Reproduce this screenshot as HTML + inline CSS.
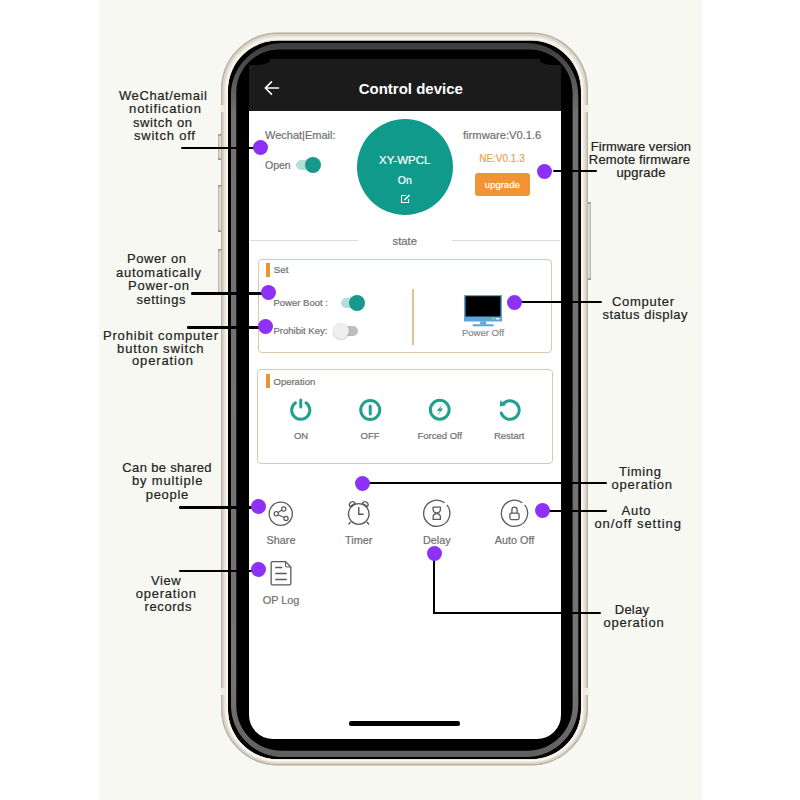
<!DOCTYPE html>
<html><head><meta charset="utf-8">
<style>
html,body{margin:0;padding:0;}
body{width:800px;height:800px;position:relative;overflow:hidden;background:#fff;font-family:"Liberation Sans",sans-serif;}
.abs{position:absolute;}
.t{position:absolute;line-height:0;white-space:nowrap;font-family:"Liberation Sans",sans-serif;}
.c{width:300px;text-align:center;}
.ann{font-size:13px;color:#222;-webkit-text-stroke:0.2px #222;}
.gray{color:#707070;}
.sw{-webkit-text-stroke:0.2px currentColor;}
.line{position:absolute;background:#000;}
.dot{position:absolute;width:15px;height:15px;border-radius:50%;background:#8d31f7;}
</style></head><body>
<!-- cream band -->
<div class="abs" style="left:99px;top:0;width:603px;height:800px;background:#f7f8f2;"></div>

<!-- phone body -->
<!-- side buttons -->
<div class="abs" style="left:217.8px;top:134px;width:4px;height:26px;border-radius:1.5px 0 0 1.5px;background:linear-gradient(90deg,#bdb8ac,#e6e3dc 60%,#f0eee8);box-shadow:inset 0 2px 1px -0.5px #8f8a80, inset 0 -2px 1px -0.5px #8f8a80;"></div>
<div class="abs" style="left:217.8px;top:185px;width:4px;height:47px;border-radius:1.5px 0 0 1.5px;background:linear-gradient(90deg,#bdb8ac,#e6e3dc 60%,#f0eee8);box-shadow:inset 0 2px 1px -0.5px #8f8a80, inset 0 -2px 1px -0.5px #8f8a80;"></div>
<div class="abs" style="left:217.8px;top:249px;width:4px;height:46px;border-radius:1.5px 0 0 1.5px;background:linear-gradient(90deg,#bdb8ac,#e6e3dc 60%,#f0eee8);box-shadow:inset 0 2px 1px -0.5px #8f8a80, inset 0 -2px 1px -0.5px #8f8a80;"></div>
<div class="abs" style="left:587px;top:201.5px;width:4px;height:78px;border-radius:0 1.5px 1.5px 0;background:linear-gradient(270deg,#bdb8ac,#e6e3dc 60%,#f0eee8);box-shadow:inset 0 2px 1px -0.5px #8f8a80, inset 0 -2px 1px -0.5px #8f8a80;"></div>

<svg class="abs" style="left:0;top:0" width="800" height="800" viewBox="0 0 800 800">
  <path d="M278,40.5 H531 C558.615,40.5 581,62.885 581,90.5 V709.3 C581,736.915 558.615,759.3 531,759.3 H278 C250.385,759.3 228,736.915 228,709.3 V90.5 C228,62.885 250.385,40.5 278,40.5 Z" fill="#000"/>
</svg>

<!-- screen -->
<div class="abs" style="left:249px;top:59px;width:311.5px;height:680px;border-radius:0 0 24px 24px;background:#fff;overflow:hidden;">
  <div class="abs" style="left:0;top:0;width:311.5px;height:52px;background:#1b1b1b;"></div>
</div>
<div class="abs" style="left:249px;top:59px;width:21px;height:5.5px;background:#000;border-bottom-right-radius:12px 5px;"></div>
<div class="abs" style="left:539.5px;top:59px;width:21px;height:5.5px;background:#000;border-bottom-left-radius:12px 5px;"></div>

<svg class="abs" style="left:0;top:0" width="800" height="800" viewBox="0 0 800 800">
  <defs>
    <linearGradient id="gg" x1="0" y1="43" x2="0" y2="757" gradientUnits="userSpaceOnUse">
      <stop offset="0" stop-color="#3c3c3c"/>
      <stop offset="0.03" stop-color="#4c4c4c"/>
      <stop offset="0.1" stop-color="#727272"/>
      <stop offset="0.9" stop-color="#747474"/>
      <stop offset="0.97" stop-color="#686868"/>
      <stop offset="1" stop-color="#5e5e5e"/>
    </linearGradient>
  </defs>
  <path d="M283,43 H526.3 C555.0196,43 578.3,66.2804 578.3,95 V705 C578.3,733.7196 555.0196,757 526.3,757 H283 C254.2804,757 231,733.7196 231,705 V95 C231,66.2804 254.2804,43 283,43 Z M279.3,49.4 H529.6 C553.3489000000001,49.4 572.6,68.65110000000001 572.6,92.4 V705.8 C572.6,730.6535 552.4535000000001,750.8 527.6,750.8 H281.3 C256.4465,750.8 236.3,730.6535 236.3,705.8 V92.4 C236.3,68.65110000000001 255.55110000000002,49.4 279.3,49.4 Z" fill="url(#gg)" fill-rule="evenodd"/>
  <path d="M278,32.5 H531 C562.4811,32.5 588,58.0189 588,89.5 V708.5 C588,739.9811 562.4811,765.5 531,765.5 H278 C246.5189,765.5 221,739.9811 221,708.5 V89.5 C221,58.0189 246.5189,32.5 278,32.5 Z M278,40.5 H531 C558.615,40.5 581,62.885 581,90.5 V709.3 C581,736.915 558.615,759.3 531,759.3 H278 C250.385,759.3 228,736.915 228,709.3 V90.5 C228,62.885 250.385,40.5 278,40.5 Z" fill="#e8e4da" fill-rule="evenodd"/>
  <path d="M278.0,33.3 H531.0 C562.03926,33.3 587.2,58.46074 587.2,89.5 V708.5 C587.2,739.53926 562.03926,764.7 531.0,764.7 H278.0 C246.96074,764.7 221.8,739.53926 221.8,708.5 V89.5 C221.8,58.46074 246.96074,33.3 278.0,33.3 Z" fill="none" stroke="#b9b1a1" stroke-width="1.6"/>
  <path d="M278.0,35 H531.0 C561.10035,35 585.5,59.399649999999994 585.5,89.5 V708.5 C585.5,738.60035 561.10035,763 531.0,763 H278.0 C247.89965,763 223.5,738.60035 223.5,708.5 V89.5 C223.5,59.399649999999994 247.89965,35 278.0,35 Z" fill="none" stroke="#dad4c8" stroke-width="1.8"/>
  <path d="M278.0,36.8 H531.0 C560.16144,36.8 583.8,60.438559999999995 583.8,89.6 V708.8000000000001 C583.8,737.96144 560.16144,761.6 531.0,761.6 H278.0 C248.83856,761.6 225.2,737.96144 225.2,708.8000000000001 V89.6 C225.2,60.438559999999995 248.83856,36.8 278.0,36.8 Z" fill="none" stroke="#ebe7de" stroke-width="1.6"/>
  <path d="M278.1,38.6 H530.9 C559.17776,38.6 582.1,61.52224000000001 582.1,89.80000000000001 V709.3 C582.1,737.5777599999999 559.17776,760.5 530.9,760.5 H278.1 C249.82224000000002,760.5 226.9,737.5777599999999 226.9,709.3 V89.80000000000001 C226.9,61.52224000000001 249.82224000000002,38.6 278.1,38.6 Z" fill="none" stroke="#f9f7f1" stroke-width="1.8"/>
</svg>
<div class="abs" style="left:220.3px;top:105px;width:5px;height:7px;background:#efece4;"></div>
<div class="abs" style="left:220.3px;top:688px;width:5px;height:7px;background:#efece4;"></div>
<div class="abs" style="left:583.7px;top:105px;width:5px;height:7px;background:#efece4;"></div>
<div class="abs" style="left:583.7px;top:688px;width:5px;height:7px;background:#efece4;"></div>
<!-- header content -->
<svg class="abs" style="left:263px;top:80px" width="18" height="16" viewBox="0 0 18 16">
  <path d="M8.5 1.9 L2.3 8 L8.5 14.1 M2.3 8 H15.5" fill="none" stroke="#fff" stroke-width="1.6" stroke-linecap="round" stroke-linejoin="round"/>
</svg>
<div class="t c" style="left:260.8px;top:88.5px;font-size:15px;font-weight:700;color:#fff;">Control device</div>


<!-- ===== top section ===== -->
<div class="t gray sw" style="left:265px;top:134.8px;font-size:11px;">Wechat|Email:</div>
<div class="t gray sw" style="left:265px;top:165.4px;font-size:10.5px;">Open</div>
<div class="abs" style="left:296px;top:160.2px;width:22px;height:10px;border-radius:5px;background:#b4dfd9;"></div>
<div class="abs" style="left:304.6px;top:157.2px;width:16px;height:16px;border-radius:50%;background:#17988a;"></div>

<div class="abs" style="left:356.7px;top:118.8px;width:96px;height:96px;border-radius:50%;background:#109a8b;"></div>
<div class="t c sw" style="left:254.7px;top:159.9px;font-size:11.5px;color:#fff;">XY-WPCL</div>
<div class="t c sw" style="left:254.75px;top:180px;font-size:10.5px;color:#fff;">On</div>
<svg class="abs" style="left:399.5px;top:193.5px" width="11" height="10" viewBox="0 0 11 10">
  <path d="M6 1.5 H1.5 V8.5 H8.5 V5" fill="none" stroke="#fff" stroke-width="1.1"/>
  <path d="M4.5 6 L9.5 1" fill="none" stroke="#fff" stroke-width="1.6"/>
</svg>

<div class="t gray sw" style="left:463px;top:134.8px;font-size:11.2px;">firmware:V0.1.6</div>
<div class="t sw" style="left:479.2px;top:159.4px;font-size:10px;color:#e2a35c;">NE:V0.1.3</div>
<div class="abs" style="left:474.8px;top:172.8px;width:55.2px;height:23.4px;border-radius:3px;background:#f09536;"></div>
<div class="t c sw" style="left:352.3px;top:184.6px;font-size:9.5px;color:#fff;">upgrade</div>

<!-- state divider -->
<div class="abs" style="left:250px;top:239.5px;width:108px;height:1px;background:#dcdcdc;"></div>
<div class="abs" style="left:452px;top:239.5px;width:108px;height:1px;background:#dcdcdc;"></div>
<div class="t c sw" style="left:254.8px;top:240.9px;font-size:11.3px;color:#6e6e6e;">state</div>

<!-- Set box -->
<div class="abs" style="left:257.6px;top:258.5px;width:294.5px;height:94px;box-sizing:border-box;border:1.2px solid #e0c6a2;border-radius:4px;"></div>
<div class="abs" style="left:266.2px;top:263px;width:4.2px;height:13.8px;background:#e8962f;"></div>
<div class="t gray sw" style="left:273.8px;top:269.7px;font-size:9.7px;">Set</div>
<div class="t gray sw" style="left:273.5px;top:302.7px;font-size:9.5px;">Power Boot :</div>
<div class="abs" style="left:340.6px;top:297.6px;width:20px;height:10px;border-radius:5px;background:#b4dfd9;"></div>
<div class="abs" style="left:349.2px;top:294.8px;width:16px;height:16px;border-radius:50%;background:#17988a;"></div>
<div class="t gray sw" style="left:273.5px;top:330.7px;font-size:9.5px;">Prohibit Key:</div>
<div class="abs" style="left:337px;top:325.5px;width:21px;height:10px;border-radius:5px;background:#bdbdbd;"></div>
<div class="abs" style="left:333px;top:322.8px;width:16px;height:16px;border-radius:50%;background:#efefef;box-shadow:0 0.5px 1.5px rgba(0,0,0,0.3);"></div>
<div class="abs" style="left:412.3px;top:288.5px;width:1.6px;height:56px;background:#dcc39c;"></div>
<svg class="abs" style="left:463.5px;top:294.5px" width="38" height="32" viewBox="0 0 38 32">
  <rect x="0" y="0" width="38" height="26.5" fill="#5ea5dd"/>
  <rect x="1.5" y="1.2" width="35" height="20.3" fill="#000"/>
  <rect x="28" y="23" width="3" height="1.5" fill="#9ed08a"/>
  <rect x="32" y="23" width="3.5" height="1.5" fill="#e9f3fb"/>
  <rect x="16.2" y="26.5" width="6" height="3" fill="#5ea5dd"/>
  <rect x="8.7" y="29.3" width="21" height="2" fill="#5ea5dd"/>
</svg>
<div class="t c sw" style="left:333px;top:332.7px;font-size:9.5px;color:#888;">Power Off</div>

<!-- Operation box -->
<div class="abs" style="left:257.4px;top:368.6px;width:295.2px;height:95.4px;box-sizing:border-box;border:1.2px solid #e0c6a2;border-radius:4px;"></div>
<div class="abs" style="left:266.4px;top:374px;width:3.8px;height:14px;background:#e8962f;"></div>
<div class="t gray sw" style="left:273.5px;top:381.7px;font-size:9.5px;">Operation</div>
<svg class="abs" style="left:287px;top:396px" width="28" height="28" viewBox="0 0 28 28">
  <path d="M8.55 6.8 A9.1 9.1 0 1 0 18.95 6.8" fill="none" stroke="#22a08d" stroke-width="3" stroke-linecap="round"/>
  <path d="M13.75 4 V11" fill="none" stroke="#22a08d" stroke-width="3" stroke-linecap="round"/>
</svg>
<svg class="abs" style="left:356px;top:396px" width="28" height="28" viewBox="0 0 28 28">
  <circle cx="14.25" cy="14" r="9.5" fill="none" stroke="#22a08d" stroke-width="3"/>
  <path d="M14.25 10 V18" fill="none" stroke="#22a08d" stroke-width="3" stroke-linecap="round"/>
</svg>
<svg class="abs" style="left:426px;top:396px" width="28" height="28" viewBox="0 0 28 28">
  <circle cx="13.75" cy="13.75" r="9.4" fill="none" stroke="#22a08d" stroke-width="3"/>
  <path d="M17 7.8 L10.8 15 H14 L11.2 19.6 L17.3 12.6 H14.1 Z" fill="#22a08d"/>
</svg>
<svg class="abs" style="left:495.5px;top:396px" width="28" height="28" viewBox="0 0 28 28">
  <path d="M8.2 6.8 A9.25 9.25 0 1 1 5.2 17.1" fill="none" stroke="#22a08d" stroke-width="3" stroke-linecap="round"/>
  <path d="M4.3 4.3 L3.8 10.6 L10.3 9.2 Z" fill="#22a08d"/>
</svg>
<div class="t c sw" style="left:151px;top:435.7px;font-size:9.5px;color:#707070;">ON</div>
<div class="t c sw" style="left:220px;top:435.7px;font-size:9.5px;color:#707070;">OFF</div>
<div class="t c sw" style="left:289.8px;top:435.7px;font-size:9.5px;color:#707070;">Forced Off</div>
<div class="t c sw" style="left:359.2px;top:435.7px;font-size:9.5px;color:#707070;">Restart</div>

<!-- bottom icons -->
<svg class="abs" style="left:266px;top:498.5px" width="30" height="30" viewBox="0 0 30 30">
  <circle cx="14.75" cy="14.75" r="11.6" fill="none" stroke="#5a5a5a" stroke-width="1.3"/>
  <circle cx="17.75" cy="10" r="2.1" fill="none" stroke="#5a5a5a" stroke-width="1.2"/>
  <circle cx="10.25" cy="14.75" r="2.1" fill="none" stroke="#5a5a5a" stroke-width="1.2"/>
  <circle cx="20" cy="19.5" r="2.1" fill="none" stroke="#5a5a5a" stroke-width="1.2"/>
  <path d="M12.1 13.6 L16 11.1 M12.2 15.8 L18.1 18.5" stroke="#5a5a5a" stroke-width="1.2"/>
</svg>
<svg class="abs" style="left:345px;top:500px" width="28" height="28" viewBox="0 0 28 28">
  <circle cx="13.75" cy="14" r="10.3" fill="none" stroke="#5a5a5a" stroke-width="1.3"/>
  <path d="M13.75 7 V14.25 H18.6" fill="none" stroke="#5a5a5a" stroke-width="1.4"/>
  <path d="M5 6.6 A3.1 3.1 0 0 1 10.2 3.2 Z M22.5 6.6 A3.1 3.1 0 0 0 17.3 3.2 Z" fill="none" stroke="#5a5a5a" stroke-width="1.3" stroke-linejoin="round"/>
  <path d="M5.6 22 L3.5 24.5 M21.9 22 L24 24.5" stroke="#5a5a5a" stroke-width="1.3"/>
</svg>
<svg class="abs" style="left:422px;top:499px" width="30" height="30" viewBox="0 0 30 30">
  <path d="M24.86 5.92 A13.1 13.1 0 1 1 22.63 3.79" fill="none" stroke="#5a5a5a" stroke-width="1.3"/>
  <path d="M11.1 8.1 H18.4 V10.5 Q18.4 13.3 14.75 14.25 Q11.1 13.3 11.1 10.5 Z M11.1 20.4 H18.4 V18 Q18.4 15.2 14.75 14.25 Q11.1 15.2 11.1 18 Z" fill="none" stroke="#5a5a5a" stroke-width="1.3" stroke-linejoin="round"/>
</svg>
<svg class="abs" style="left:500px;top:499px" width="30" height="30" viewBox="0 0 30 30">
  <path d="M24.61 5.92 A13.1 13.1 0 1 1 22.38 3.79" fill="none" stroke="#5a5a5a" stroke-width="1.3"/>
  <rect x="9.9" y="14.15" width="9.2" height="6.45" rx="1.5" fill="none" stroke="#5a5a5a" stroke-width="1.3"/>
  <path d="M11.9 14.15 V10.75 A2.6 2.6 0 0 1 17.1 10.75 V14.15" fill="none" stroke="#5a5a5a" stroke-width="1.3"/>
</svg>
<div class="t c sw" style="left:131px;top:540.3px;font-size:10.8px;color:#6e6e6e;">Share</div>
<div class="t c sw" style="left:208.7px;top:540.3px;font-size:10.8px;color:#6e6e6e;">Timer</div>
<div class="t c sw" style="left:286.8px;top:540.3px;font-size:10.8px;color:#6e6e6e;">Delay</div>
<div class="t c sw" style="left:364.5px;top:540.3px;font-size:10.8px;color:#6e6e6e;">Auto Off</div>
<svg class="abs" style="left:269px;top:559.5px" width="24" height="28" viewBox="0 0 24 28">
  <path d="M3.5 1.65 H16.5 L21.85 7 V23.5 A1.35 1.35 0 0 1 20.5 24.85 H3.5 A1.35 1.35 0 0 1 2.15 23.5 V3 A1.35 1.35 0 0 1 3.5 1.65 Z" fill="none" stroke="#5a5a5a" stroke-width="1.3" stroke-linejoin="round"/>
  <path d="M16.5 1.8 V5.5 Q16.5 7 18 7 H21.7" fill="none" stroke="#5a5a5a" stroke-width="1.1"/>
  <path d="M6.25 7.5 H13.25 M6.25 13.5 H17.75 M6.25 19.5 H17.75" stroke="#5a5a5a" stroke-width="1.4"/>
</svg>
<div class="t c sw" style="left:131px;top:599.9px;font-size:10.8px;color:#6e6e6e;">OP Log</div>

<!-- home bar -->
<div class="abs" style="left:348.8px;top:721.4px;width:111px;height:4.2px;border-radius:2.1px;background:#000;"></div>

<!-- ===== annotation lines & dots ===== -->
<div class="line" style="left:181.3px;top:146.8px;width:79px;height:2.4px;border-radius:1.2px;"></div>
<div class="dot" style="left:253.2px;top:139.8px;"></div>
<div class="line" style="left:553px;top:170px;width:43.6px;height:2.4px;border-radius:1.2px;"></div>
<div class="dot" style="left:537.4px;top:163.9px;"></div>
<div class="line" style="left:191px;top:292.4px;width:77px;height:2.4px;border-radius:1.2px;"></div>
<div class="dot" style="left:260.7px;top:285.1px;"></div>
<div class="line" style="left:187px;top:326.4px;width:79px;height:2.4px;border-radius:1.2px;"></div>
<div class="dot" style="left:258.3px;top:318.8px;"></div>
<div class="line" style="left:514px;top:300.8px;width:87.5px;height:2.4px;border-radius:1.2px;"></div>
<div class="dot" style="left:507px;top:294.7px;"></div>
<div class="line" style="left:362px;top:481.6px;width:245px;height:2.4px;border-radius:1.2px;"></div>
<div class="dot" style="left:354.5px;top:476.1px;"></div>
<div class="line" style="left:179px;top:506.2px;width:80px;height:2.4px;border-radius:1.2px;"></div>
<div class="dot" style="left:250.9px;top:498.5px;"></div>
<div class="line" style="left:542px;top:509.8px;width:65px;height:2.4px;border-radius:1.2px;"></div>
<div class="dot" style="left:534.5px;top:502.9px;"></div>
<div class="line" style="left:179px;top:569.8px;width:80px;height:2.4px;border-radius:1.2px;"></div>
<div class="dot" style="left:250.9px;top:561.9px;"></div>
<div class="line" style="left:432.8px;top:553px;width:2.4px;height:61px;"></div>
<div class="line" style="left:432.8px;top:611.6px;width:168.5px;height:2.4px;border-radius:1.2px;"></div>
<div class="dot" style="left:426.9px;top:545.8px;"></div>

<!-- ===== annotation text ===== -->
<div class="t c ann" style="left:13.3px;top:95.60px;letter-spacing:0.6px;">WeChat/email</div>
<div class="t c ann" style="left:15.45px;top:109.20px;letter-spacing:0.89px;">notification</div>
<div class="t c ann" style="left:12.8px;top:123.20px;letter-spacing:0.6px;">switch on</div>
<div class="t c ann" style="left:14.89px;top:136.20px;letter-spacing:0.78px;">switch off</div>
<div class="t c ann" style="left:6.79px;top:259.20px;letter-spacing:0.58px;">Power on</div>
<div class="t c ann" style="left:8.88px;top:273.20px;letter-spacing:0.76px;">automatically</div>
<div class="t c ann" style="left:8.88px;top:286.20px;letter-spacing:0.77px;">Power-on</div>
<div class="t c ann" style="left:11.31px;top:299.80px;letter-spacing:0.63px;">settings</div>
<div class="t c ann" style="left:10.91px;top:336.20px;letter-spacing:0.82px;">Prohibit computer</div>
<div class="t c ann" style="left:10.75px;top:349.20px;letter-spacing:0.89px;">button switch</div>
<div class="t c ann" style="left:12.93px;top:360.70px;letter-spacing:0.85px;">operation</div>
<div class="t c ann" style="left:17.16px;top:467.90px;letter-spacing:0.33px;">Can be shared</div>
<div class="t c ann" style="left:17.62px;top:481.20px;letter-spacing:0.84px;">by multiple</div>
<div class="t c ann" style="left:17.34px;top:494.60px;letter-spacing:0.69px;">people</div>
<div class="t c ann" style="left:16.19px;top:580.50px;letter-spacing:0.58px;">View</div>
<div class="t c ann" style="left:16.28px;top:593.90px;letter-spacing:0.76px;">operation</div>
<div class="t c ann" style="left:18.29px;top:607.10px;letter-spacing:0.57px;">records</div>
<div class="t c ann" style="left:490.92px;top:147.20px;letter-spacing:0.04px;">Firmware version</div>
<div class="t c ann" style="left:489.47px;top:160.00px;letter-spacing:0.15px;">Remote firmware</div>
<div class="t c ann" style="left:491.0px;top:172.70px;letter-spacing:0.21px;">upgrade</div>
<div class="t c ann" style="left:493.35px;top:302.10px;letter-spacing:0.7px;">Computer</div>
<div class="t c ann" style="left:495.25px;top:314.70px;letter-spacing:0.49px;">status display</div>
<div class="t c ann" style="left:490.35px;top:471.80px;letter-spacing:0.69px;">Timing</div>
<div class="t c ann" style="left:492.18px;top:484.80px;letter-spacing:0.77px;">operation</div>
<div class="t c ann" style="left:486.48px;top:511.20px;letter-spacing:0.75px;">Auto</div>
<div class="t c ann" style="left:488.18px;top:524.20px;letter-spacing:0.95px;">on/off setting</div>
<div class="t c ann" style="left:482.03px;top:609.80px;letter-spacing:0.26px;">Delay</div>
<div class="t c ann" style="left:483.98px;top:622.90px;letter-spacing:0.75px;">operation</div>
</body></html>
